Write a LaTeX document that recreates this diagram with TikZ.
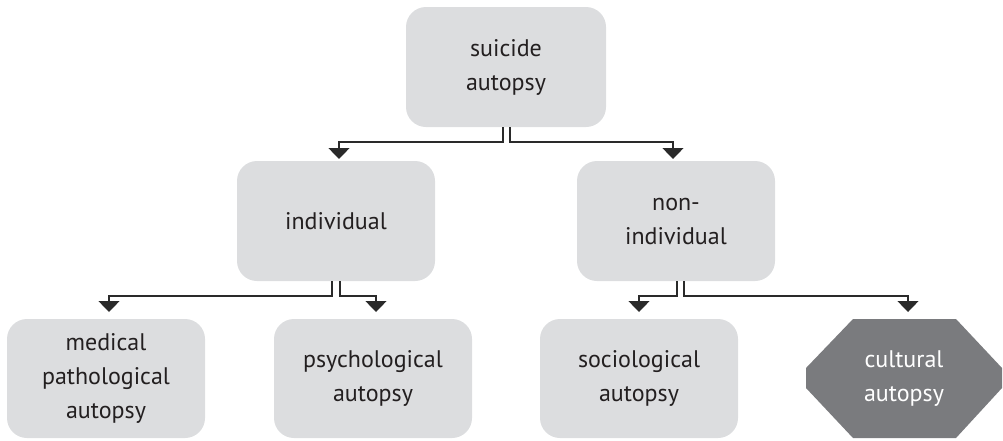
\documentclass[tikz,border=0pt]{standalone}
\usepackage{fontspec}
\setmainfont{PT Sans}
\usetikzlibrary{arrows.meta}
\definecolor{boxgray}{HTML}{DCDDDF}
\definecolor{octgray}{HTML}{7A7B7E}
\definecolor{txt}{HTML}{231F20}
\definecolor{linec}{HTML}{2A2A2A}
\begin{document}
\begin{tikzpicture}[x=1pt,y=-1pt,
  box/.style={fill=boxgray, rounded corners=20pt, text=txt},
  lbl/.style={align=center, text=txt, font=\fontsize{24}{34}\selectfont},
  conn/.style={draw=linec, line width=1.3pt, -{Triangle[width=21pt,length=11pt]}},
  ]
\useasboundingbox (0,0) rectangle (1003,440);
% boxes
\fill[box] (406,7) rectangle (606,127);
\node[lbl] (top) at (506,67) {suicide\\autopsy};
\fill[box] (237,161) rectangle (435,281);
\node[lbl] (ind) at (336,221) {individual};
\fill[box] (577,161) rectangle (775,281);
\node[lbl] (non) at (676,221) {non-\\individual};
\fill[box] (7,319) rectangle (205,438);
\node[lbl] (med) at (106,378.5) {medical\\pathological\\autopsy};
\fill[box] (274,319) rectangle (472,438);
\node[lbl] (psy) at (373,378.5) {psychological\\autopsy};
\fill[box] (540,319) rectangle (738,438);
\node[lbl] (soc) at (639,378.5) {sociological\\autopsy};
\fill[octgray] (853,319) -- (956,319) -- (1002,368) -- (1002,388) -- (956,438) -- (853,438) -- (806,388) -- (806,368) -- cycle;
\node[lbl, text=white] (cul) at (904,378.5) {cultural\\autopsy};
% anchor coordinates
\coordinate (topb1) at (503,127);
\coordinate (topb2) at (510,127);
\coordinate (indt) at (339,159);
\coordinate (nont) at (673,159);
\coordinate (indb1) at (332,281);
\coordinate (indb2) at (340,281);
\coordinate (nonb1) at (677,281);
\coordinate (nonb2) at (684,281);
\coordinate (medt) at (109,312);
\coordinate (psyt) at (376,312);
\coordinate (soct) at (639,312);
\coordinate (cult) at (908,312);
% connectors
\draw[conn] (topb1) |- (339,142) -- (indt);
\draw[conn] (topb2) |- (673,142) -- (nont);
\draw[conn] (indb1) |- (109,296) -- (medt);
\draw[conn] (indb2) |- (376,296) -- (psyt);
\draw[conn] (nonb1) |- (639,296) -- (soct);
\draw[conn] (nonb2) |- (908,296) -- (cult);
\end{tikzpicture}
\end{document}
